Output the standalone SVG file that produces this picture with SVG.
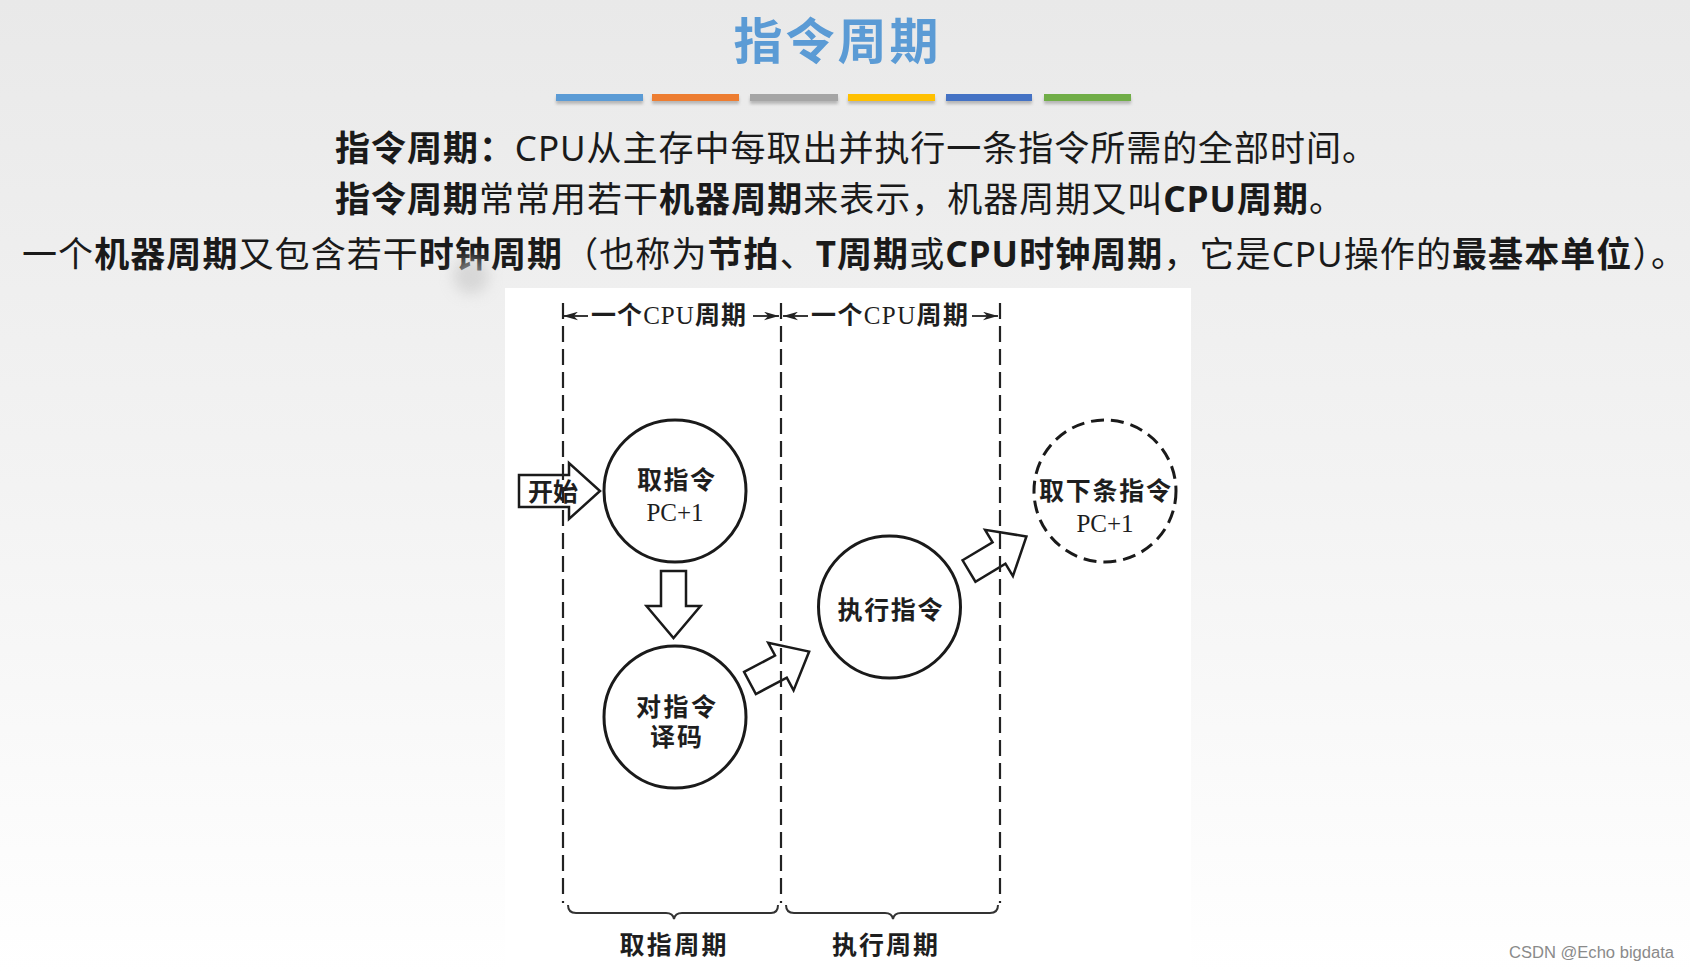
<svg xmlns="http://www.w3.org/2000/svg" width="1690" height="972" viewBox="0 0 1690 972">
<defs>
<linearGradient id="bg" x1="0" y1="0" x2="0" y2="1">
<stop offset="0" stop-color="#e9e9e9"/><stop offset="0.5" stop-color="#f3f3f3"/><stop offset="1" stop-color="#ffffff"/>
</linearGradient>
<marker id="ah" viewBox="0 0 14 8" refX="14" refY="4" markerWidth="15" markerHeight="9" markerUnits="userSpaceOnUse" orient="auto-start-reverse"><path d="M0,0 L14,4 L0,8 L4,4 Z" fill="#222"/></marker>
<path id="barrow" d="M0,-12.5 L35,-12.5 L35,-27 L67,0 L35,27 L35,12.5 L0,12.5 Z"/>
<filter id="blur" x="-1" y="-1" width="3" height="3"><feGaussianBlur stdDeviation="7"/></filter>
<filter id="sh" x="-0.2" y="-1" width="1.4" height="4"><feGaussianBlur stdDeviation="1.5"/></filter>
</defs>
<style>
.slide{font-family:"Noto Sans","Noto Sans CJK SC",sans-serif;font-size:35px;fill:#1a1a1a}
.b{font-weight:bold}
.dg{font-family:"Liberation Serif","Noto Sans CJK SC",serif;fill:#1e1e1e;text-anchor:middle;dominant-baseline:central}
.cj{font-weight:bold}
.node{fill:#fff;stroke:#1a1a1a;stroke-width:3}
.next{fill:#fff;stroke:#1a1a1a;stroke-width:3;stroke-dasharray:13 7}
.ba{fill:#fff;stroke:#1a1a1a;stroke-width:2.5;stroke-linejoin:miter}
.dash{stroke:#222;stroke-width:2.2;stroke-dasharray:16 7;fill:none}
.dim{stroke:#222;stroke-width:1.8;fill:none}
.brace{stroke:#333;stroke-width:2;fill:none}
</style>
<rect x="0" y="0" width="1690" height="972" fill="url(#bg)"/>
<g id="title">
<text x="836" y="59" text-anchor="middle" font-family="Noto Sans CJK SC, sans-serif" font-size="49" font-weight="bold" fill="#5b9bd5" textLength="205" lengthAdjust="spacing">指令周期</text>
</g>
<g id="bars">
<g filter="url(#sh)" opacity="0.35">
<rect x="556" y="97" width="87" height="7" fill="#555"/><rect x="652" y="97" width="87" height="7" fill="#555"/><rect x="750" y="97" width="88" height="7" fill="#555"/><rect x="848" y="97" width="87" height="7" fill="#555"/><rect x="946" y="97" width="86" height="7" fill="#555"/><rect x="1044" y="97" width="87" height="7" fill="#555"/>
</g>
<rect x="556" y="94" width="87" height="7" fill="#5b9bd5"/>
<rect x="652" y="94" width="87" height="7" fill="#ed7d31"/>
<rect x="750" y="94" width="88" height="7" fill="#a5a5a5"/>
<rect x="848" y="94" width="87" height="7" fill="#ffc000"/>
<rect x="946" y="94" width="86" height="7" fill="#4472c4"/>
<rect x="1044" y="94" width="87" height="7" fill="#70ad47"/>
</g>
<g id="text">
<text class="slide" x="335" y="161" textLength="1042" lengthAdjust="spacing"><tspan class="b">指令周期：</tspan>CPU从主存中每取出并执行一条指令所需的全部时间。</text>
<text class="slide" x="335" y="212" textLength="1009" lengthAdjust="spacing"><tspan class="b">指令周期</tspan>常常用若干<tspan class="b">机器周期</tspan>来表示，机器周期又叫<tspan class="b">CPU周期</tspan>。</text>
<text class="slide" x="22" y="267" textLength="1664" lengthAdjust="spacing">一个<tspan class="b">机器周期</tspan>又包含若干<tspan class="b">时钟周期</tspan>（也称为<tspan class="b">节拍</tspan>、<tspan class="b">T周期</tspan>或<tspan class="b">CPU时钟周期</tspan>，它是CPU操作的<tspan class="b">最基本单位</tspan>）。</text>
</g>
<ellipse cx="471" cy="276" rx="18" ry="18" fill="#c8c8c8" opacity="0.6" filter="url(#blur)"/>
<rect id="panel" x="505" y="288" width="686" height="684" fill="#ffffff"/>
<g id="connectors">
<use href="#barrow" class="ba" transform="translate(673.5,571) rotate(90)"/>
<use href="#barrow" class="ba" transform="translate(750,683) rotate(-28)"/>
<use href="#barrow" class="ba" transform="translate(969,571) rotate(-31)"/>
</g>
<g id="start">
<path class="ba" d="M519,475 L569,475 L569,463 L600,491 L569,519 L569,507 L519,507 Z"/>
<text class="dg cj" x="553" y="492" font-size="25">开始</text>
</g>
<g id="guides">
<line class="dash" x1="563" y1="303" x2="563" y2="903"/>
<line class="dash" x1="781" y1="303" x2="781" y2="903"/>
<line class="dash" x1="1000" y1="303" x2="1000" y2="903"/>
<line class="dim" x1="563" y1="316" x2="588" y2="316" marker-start="url(#ah)"/>
<line class="dim" x1="753" y1="316" x2="779" y2="316" marker-end="url(#ah)"/>
<line class="dim" x1="783" y1="316" x2="808" y2="316" marker-start="url(#ah)"/>
<line class="dim" x1="972" y1="316" x2="998" y2="316" marker-end="url(#ah)"/>
<text class="dg" x="668.5" y="315" font-size="25" textLength="155" lengthAdjust="spacing"><tspan class="cj">一个</tspan>CPU<tspan class="cj">周期</tspan></text>
<text class="dg" x="889.5" y="315" font-size="25" textLength="157" lengthAdjust="spacing"><tspan class="cj">一个</tspan>CPU<tspan class="cj">周期</tspan></text>
<path class="brace" d="M568,905 Q568,913 576,913 L666,913 Q673,913 674,919 Q675,913 682,913 L771,913 Q778,913 778,905"/>
<path class="brace" d="M786,905 Q786,913 794,913 L885,913 Q892,913 893,919 Q894,913 901,913 L990,913 Q998,913 998,905"/>
<text class="dg cj" x="673" y="945" font-size="25" textLength="107" lengthAdjust="spacing">取指周期</text>
<text class="dg cj" x="885" y="945" font-size="25" textLength="106" lengthAdjust="spacing">执行周期</text>
</g>
<g id="fetch">
<circle class="node" cx="675" cy="491" r="71"/>
<text class="dg cj" x="676" y="480" font-size="25" textLength="78" lengthAdjust="spacing">取指令</text>
<text class="dg" x="675" y="512" font-size="25">PC+1</text>
</g>
<g id="decode">
<circle class="node" cx="675" cy="717" r="71"/>
<text class="dg cj" x="676" y="707" font-size="25" textLength="80" lengthAdjust="spacing">对指令</text>
<text class="dg cj" x="676" y="737" font-size="25" textLength="52" lengthAdjust="spacing">译码</text>
</g>
<g id="execute">
<circle class="node" cx="889.5" cy="607" r="71"/>
<text class="dg cj" x="890" y="610" font-size="25" textLength="105" lengthAdjust="spacing">执行指令</text>
</g>
<g id="next">
<circle class="next" cx="1105" cy="491" r="71"/>
<text class="dg cj" x="1105" y="491" font-size="25" textLength="132" lengthAdjust="spacing">取下条指令</text>
<text class="dg" x="1105" y="523" font-size="25">PC+1</text>
</g>
<text x="1509" y="958" font-family="Liberation Sans, sans-serif" font-size="16" fill="#8a8a8a" textLength="165" lengthAdjust="spacingAndGlyphs">CSDN @Echo bigdata</text>
</svg>
